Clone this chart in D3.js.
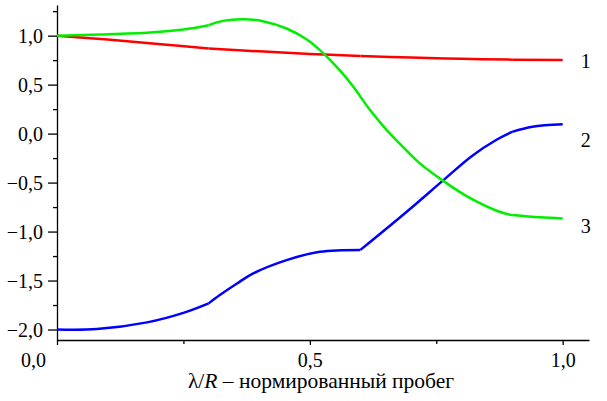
<!DOCTYPE html>
<html>
<head>
<meta charset="utf-8">
<script src="https://cdn.jsdelivr.net/npm/d3@7"></script>
<style>
  body { margin: 0; background: #fff; }
  svg { display: block; }
  text { font-family: "Liberation Serif", "Times New Roman", serif; }
</style>
</head>
<body>
<svg width="607" height="401"></svg>
<script>
// curve 1 (red)
const x1 = [0, 0.1, 0.2, 0.3, 0.4, 0.5, 0.6, 0.7, 0.8, 0.9, 1.0];
const y1 = [1.0, 0.96, 0.915, 0.87, 0.84, 0.813, 0.793, 0.776, 0.764, 0.755, 0.752];

// curve 2 (blue)
const x2 = [0, 0.079, 0.178, 0.25, 0.3, 0.322, 0.356, 0.388, 0.454, 0.52, 0.6, 0.691, 0.763, 0.82, 0.87, 0.9, 0.94, 1.0];
const y2 = [-2.0, -1.995, -1.927, -1.83, -1.733, -1.648, -1.53, -1.427, -1.291, -1.206, -1.187, -0.80, -0.48, -0.23, -0.06, 0.018, 0.07, 0.095];

// curve 3 (green)
const x3 = [0, 0.085, 0.184, 0.25, 0.3, 0.328, 0.368, 0.407, 0.454, 0.494, 0.52, 0.559, 0.586, 0.619, 0.652, 0.684, 0.714, 0.763, 0.81, 0.875, 0.9, 0.955, 1.0];
const y3 = [1.0, 1.012, 1.033, 1.063, 1.107, 1.151, 1.168, 1.148, 1.073, 0.961, 0.852, 0.648, 0.478, 0.24, 0.036, -0.135, -0.288, -0.48, -0.638, -0.798, -0.832, -0.855, -0.866];

// points where the curves have a corner
const breaks = [0.3, 0.6, 0.9];

const curveNames = ['1', '2', '3'];
const xTicks = [0, 0.5, 1.0];
const xMinor = [0.25, 0.75];
const yTicks = [-2.0, -1.5, -1.0, -0.5, 0.0, 0.5, 1.0];
const yMinor = [-1.75, -1.25, -0.75, -0.25, 0.25, 0.75, 1.25];

const font = '"Liberation Serif", "Times New Roman", serif';
const svg = d3.select('svg');

const x = d3.scaleLinear().domain([0, 1.052]).range([57, 589]);
const y = d3.scaleLinear().domain([-2.107, 1.313]).range([340, 5]);

const fmt = v => d3.format('.1f')(v).replace('.', ',');

// minor ticks
svg.append('g')
  .attr('transform', 'translate(0,340)')
  .call(d3.axisBottom(x).tickValues(xMinor).tickSize(4).tickFormat(''))
  .call(g => g.select('.domain').remove());
svg.append('g')
  .attr('transform', 'translate(57,0)')
  .call(d3.axisLeft(y).tickValues(yMinor).tickSize(4).tickFormat(''))
  .call(g => g.select('.domain').remove());

const xAxis = svg.append('g')
  .attr('transform', 'translate(0,340)')
  .call(d3.axisBottom(x).tickValues(xTicks).tickSize(5).tickSizeOuter(0).tickPadding(8).tickFormat(fmt));

const yAxis = svg.append('g')
  .attr('transform', 'translate(57,0)')
  .call(d3.axisLeft(y).tickValues(yTicks).tickSize(9).tickSizeOuter(0).tickPadding(5).tickFormat(fmt));

svg.selectAll('g').attr('font-family', font).attr('font-size', 20);
svg.selectAll('.tick line, .domain').attr('stroke', '#000').attr('stroke-width', 1.3);
svg.selectAll('.tick text').attr('fill', '#000');
xAxis.selectAll('.tick text').filter(d => d === 0).attr('dx', -24);
yAxis.selectAll('.tick text').attr('dy', '0.36em');

// x axis title
const title = svg.append('text')
  .attr('x', 321)
  .attr('y', 388)
  .attr('text-anchor', 'middle')
  .attr('font-family', font)
  .attr('font-size', 21.5)
  .attr('fill', '#000');
title.append('tspan').text('λ/');
title.append('tspan').attr('font-style', 'italic').text('R');
title.append('tspan').text(' – нормированный пробег');

// curves, drawn piecewise so the corners stay sharp
function pieces(xs, ys) {
  const out = [];
  let cur = [];
  xs.forEach((xv, i) => {
    cur.push([xv, ys[i]]);
    if (breaks.includes(xv) && i < xs.length - 1) {
      out.push(cur);
      cur = [[xv, ys[i]]];
    }
  });
  out.push(cur);
  return out;
}

const line = d3.line()
  .x(d => x(d[0]))
  .y(d => y(d[1]))
  .curve(d3.curveCatmullRom.alpha(0.5));

const series = [
  { xs: x1, ys: y1, color: '#ff0000', dy: 8 },
  { xs: x2, ys: y2, color: '#0000ff', dy: 23 },
  { xs: x3, ys: y3, color: '#00ee00', dy: 15 }
];

series.forEach((s, k) => {
  svg.append('g')
    .selectAll('path')
    .data(pieces(s.xs, s.ys))
    .enter()
    .append('path')
    .attr('d', line)
    .attr('fill', 'none')
    .attr('stroke', s.color)
    .attr('stroke-width', 2.5)
    .attr('stroke-linejoin', 'round');

  const last = s.ys.length - 1;
  svg.append('text')
    .attr('x', x(s.xs[last]) + 18)
    .attr('y', y(s.ys[last]) + s.dy)
    .attr('font-family', font)
    .attr('font-size', 20)
    .attr('fill', '#000')
    .text(curveNames[k]);
});
</script>
</body>
</html>
